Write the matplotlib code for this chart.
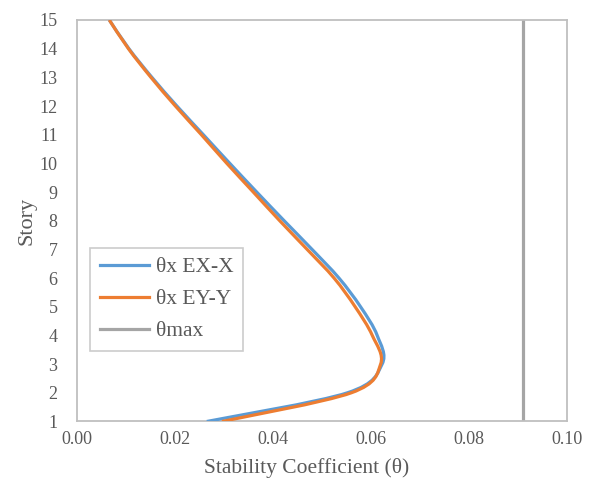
import numpy as np
import matplotlib
matplotlib.use("Agg")
import matplotlib.pyplot as plt
from matplotlib.path import Path
from matplotlib.patches import PathPatch
from matplotlib.lines import Line2D

# Story levels and stability coefficients
stories = [1, 2, 3, 4, 5, 6, 7, 8, 9, 10, 11, 12, 13, 14, 15]
theta_ex = [0.0265, 0.0552, 0.0623, 0.0613, 0.0579, 0.0535, 0.0480, 0.0423,
            0.0367, 0.0312, 0.0258, 0.0204, 0.0153, 0.0106, 0.0066]
theta_ey = [0.0296, 0.0560, 0.0620, 0.0603, 0.0568, 0.0525, 0.0470, 0.0414,
            0.0360, 0.0306, 0.0254, 0.0201, 0.0151, 0.0105, 0.0066]
theta_max = 0.0911

labels = ["θx EX-X", "θx EY-Y", "θmax"]
colors = ["#5B9BD5", "#ED7D31", "#A5A5A5"]
x_ticks = [0.00, 0.02, 0.04, 0.06, 0.08, 0.10]

plt.rcParams["font.family"] = ["Liberation Serif", "DejaVu Serif"]


def smooth_path(xs, ys):
    """Catmull-Rom style smoothed path (cubic Bezier segments) through points."""
    pts = np.column_stack([xs, ys]).astype(float)
    n = len(pts)
    verts = [pts[0]]
    codes = [Path.MOVETO]
    for i in range(n - 1):
        p0 = pts[i - 1] if i > 0 else pts[i]
        p1 = pts[i]
        p2 = pts[i + 1]
        p3 = pts[i + 2] if i + 2 < n else pts[i + 1]
        c1 = p1 + (p2 - p0) / 6.0
        c2 = p2 - (p3 - p1) / 6.0
        verts += [c1, c2, p2]
        codes += [Path.CURVE4] * 3
    return Path(verts, codes)


fig = plt.figure(figsize=(5.89, 4.95), dpi=100)
ax = fig.add_axes([0.1307, 0.1485, 0.8315, 0.8111])

for xs, c in [(theta_ex, colors[0]), (theta_ey, colors[1])]:
    patch = PathPatch(smooth_path(xs, stories), facecolor="none", edgecolor=c,
                      lw=2.3, capstyle="butt", joinstyle="round", zorder=3)
    ax.add_patch(patch)

ax.plot([theta_max, theta_max], [stories[0], stories[-1]], color=colors[2],
        lw=2.3, zorder=2)

ax.set_xlim(0, 0.10)
ax.set_ylim(1, 15)
ax.set_xticks(x_ticks)
ax.set_xticklabels([f"{v:.2f}" for v in x_ticks])
ax.set_yticks(stories)
ax.tick_params(length=0, labelsize=13, colors="#595959")
ax.tick_params(axis="x", pad=7)
ax.tick_params(axis="y", pad=14)

for s in ax.spines.values():
    s.set_color("#BFBFBF")
    s.set_linewidth(1.3)

ax.set_xlabel("Stability Coefficient (θ)", fontsize=15.5, color="#595959")
ax.xaxis.set_label_coords(0.468, -0.09)
ax.set_ylabel("Story", fontsize=16, color="#595959")
ax.yaxis.set_label_coords(-0.083, 0.5)

handles = [Line2D([], [], color=c, lw=2.3) for c in colors]
leg = ax.legend(handles, labels, loc="upper left",
                bbox_to_anchor=(0.027, 0.433), fontsize=15.5, frameon=True,
                fancybox=False, edgecolor="#BFBFBF", handlelength=2.3,
                handletextpad=0.3, borderpad=0.45, labelspacing=0.55,
                borderaxespad=0, labelcolor="#595959")
leg.get_frame().set_linewidth(1.2)

fig.savefig("out.png", dpi=100)
